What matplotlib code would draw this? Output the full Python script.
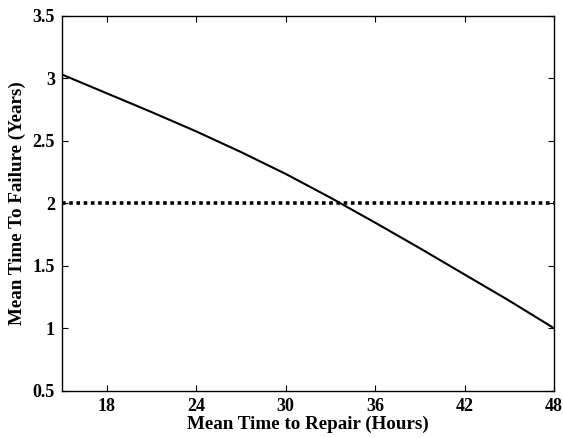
import matplotlib.pyplot as plt
from matplotlib.ticker import FuncFormatter

plt.rcParams["font.family"] = ["Liberation Serif", "DejaVu Serif"]
plt.rcParams["font.weight"] = "bold"

# mean time to repair (hours) vs mean time to failure (years)
mttr_hours = [15, 18, 21, 24, 27, 30, 33, 36, 39, 42, 45, 48]
mttf_years = [3.03, 2.88, 2.73, 2.575, 2.41, 2.235, 2.045, 1.845, 1.64, 1.43, 1.22, 1.00]
target_years = 2.0

x_ticks = [18, 24, 30, 36, 42, 48]
y_ticks = [0.5, 1, 1.5, 2, 2.5, 3, 3.5]

fig = plt.figure(figsize=(5.63, 4.38), dpi=100)
ax = fig.add_axes([0.110, 0.108, 0.874, 0.856])

ax.plot(mttr_hours, mttf_years, color="black", linewidth=1.5)
ax.axhline(target_years, color="black", linewidth=2.6, linestyle=(0, (1, 1)))

ax.set_xlim(15, 48)
ax.set_ylim(0.5, 3.5)
ax.set_xticks(x_ticks)
ax.set_yticks(y_ticks)
ax.yaxis.set_major_formatter(FuncFormatter(lambda v, p: f"{v:g}"))

ax.tick_params(direction="in", length=4, width=0.8, top=True, right=True,
               labelsize=13, pad=5)
for lab in ax.get_xticklabels() + ax.get_yticklabels():
    lab.set_fontweight("bold")
for s in ax.spines.values():
    s.set_linewidth(1.0)

ax.set_xlabel("Mean Time to Repair (Hours)", fontsize=13.7, fontweight="bold", labelpad=1)
ax.set_ylabel("Mean Time To Failure (Years)", fontsize=13.7, fontweight="bold", labelpad=5)

fig.savefig("out.png", dpi=100)
